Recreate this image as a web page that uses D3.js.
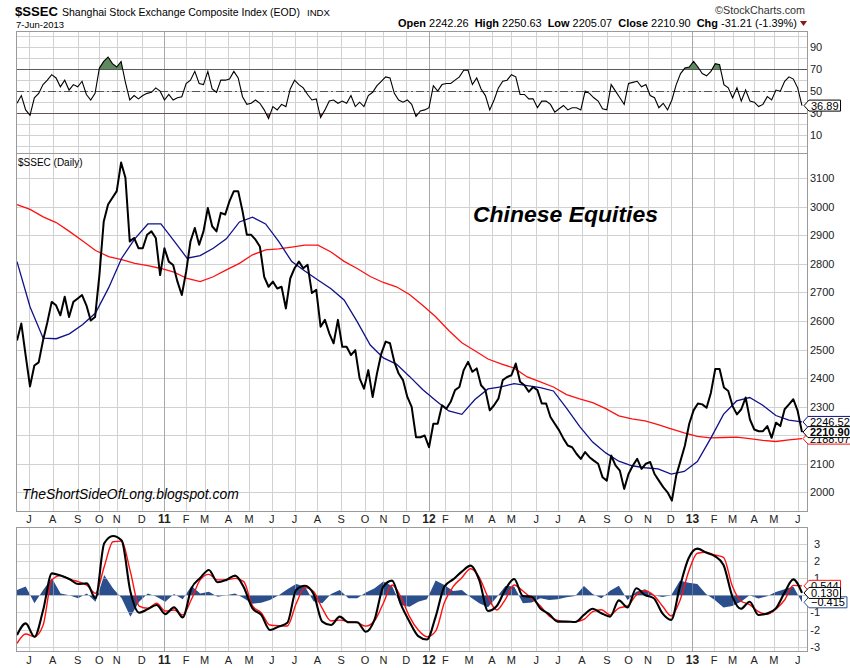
<!DOCTYPE html>
<html><head><meta charset="utf-8">
<script src="https://cdn.jsdelivr.net/npm/d3@7"></script>
<style>body{margin:0;background:#fff} svg{display:block} text{font-family:"Liberation Sans",Arial,sans-serif}</style>
</head><body><svg id="c" width="850" height="668"></svg>
<script>
// ---------- data ----------
const monthLabels = ["J","A","S","O","N","D","11","F","M","A","M","J","J","A","S","O","N","D","12","F","M","A","M","J","J","A","S","O","N","D","13","F","M","A","M","J"];
const monthDayIdx = [11,33,56,76,92,115,136,156,173,195,214,235,256,277,299,321,338,359,380,395,417,438,456,479,499,521,544,564,582,603,623,643,660,680,698,720];
const totalDays = 725;

const closePrice = [2532,2591,2479,2371,2444,2455,2532,2596,2667,2655,2620,2685,2614,2667,2679,2691,2655,2602,2614,2761,
2949,3008,3032,3055,3155,3102,2879,2891,2855,2855,2902,2914,2891,2761,2855,2808,2796,2738,2691,2773,
2879,2926,2867,2914,2996,2932,2914,2979,2973,3020,3055,3055,2985,2902,2902,2885,2861,2755,2720,2738,
2714,2720,2644,2749,2785,2808,2785,
2797,2698,2709,2580,2604,2557,2522,2604,2510,2510,2481,2498,2399,2363,2428,2334,2416,2486,2528,2522,
2457,2416,2393,2334,2299,2193,2193,2199,2158,2240,2240,2305,2293,2317,2358,2369,2428,2457,2422,2434,
2375,2358,2287,2305,2328,2393,2404,2410,2451,2387,2375,2352,2369,2358,2311,2311,2264,2240,2217,2188,
2164,2158,2135,2117,2141,2123,2111,2100,2053,2041,2129,2094,2076,2012,2064,2094,2117,2082,2100,2106,
2064,2041,2018,2000,1971,2059,2111,2164,2240,2287,2311,
2308,2296,2349,2432,2432,2367,2355,2302,2273,2291,2332,2255,2220,2214,2214,2232,2191,2244,2232,2291,
2308,2326,2285,2210.90];

const ma50 = [2808,2649,2540,2538,2555,2587,2628,2716,2820,2888,2940,2940,2881,2820,2829,2855,2888,2947,2964,2940,
2879,2808,2775,2744,2713,2674,2598,2516,2471,2449,2406,2360,2322,2285,2273,2325,2362,2369,2381,2374,
2367,2355,2295,2231,2176,2138,2109,2093,2086,2082,2064,2073,2108,2187,2273,2320,2332,2305,2269,2253,2246.52];

const ma200 = [3008,2991,2965,2945,2914,2881,2847,2826,2815,2802,2794,2784,2771,2749,2738,2755,2779,2802,2832,2849,
2853,2859,2866,2866,2842,2809,2784,2756,2735,2720,2693,2655,2615,2567,2524,2496,2467,2450,2435,2404,
2387,2369,2342,2327,2314,2293,2268,2257,2250,2237,2222,2208,2196,2191,2192,2193,2188,2182,2178,2184,2188.07];

const rsi14 = [39,46,33,28,44,48,56,60,65,62,54,60,51,56,54,59,47,42,48,71,
77,81,75,72,77,58,42,46,43,46,48,49,53,50,42,47,42,44,45,57,
60,68,57,56,68,52,49,60,60,61,68,62,45,38,39,42,39,33,25,36,
33,38,36,52,60,56,53,47,42,43,26,33,41,42,39,41,39,46,36,40,
36,46,49,55,59,63,62,48,42,40,42,38,27,32,33,
35,55,50,56,57,57,60,63,69,69,56,62,52,46,33,42,53,59,60,65,
63,47,47,43,43,35,41,41,38,31,34,37,33,35,35,33,50,48,44,41,
34,33,56,50,44,38,57,58,59,54,56,46,44,35,39,33,42,56,66,71,
72,77,72,66,64,68,75,74,56,53,44,53,41,51,41,40,36,38,45,42,
51,50,59,63,61,53,36.89];

const macdLine = [-2.32,-1.64,-2.42,-0.86,1.27,1.14,0.94,0.65,0.69,-0.18,3.02,3.45,3.18,0.21,-1.02,-0.81,-0.57,-1.10,-0.71,-1.29,
0.40,1.00,1.47,0.75,0.89,1.14,0.46,-0.77,-1.15,-2.03,-1.83,-1.60,0.30,0.55,0.07,-1.54,-1.74,-1.25,-1.58,-1.58,
-2.13,-1.41,0.50,0.85,-0.52,-1.54,-2.38,-2.58,-1.25,0.50,0.92,1.37,1.72,0.88,-0.92,-0.63,0.34,0.94,-0.05,-0.09,
-0.77,-1.10,-1.54,-1.54,-1.56,-1.15,-0.79,-1.05,-1.25,-0.30,-0.71,0.40,0.01,-0.18,-1.06,-1.44,0.50,2.15,2.71,2.48,
2.28,1.76,-0.05,-0.79,-0.38,-1.15,-1.06,-0.77,0.15,0.92,0.130];

const macdSignal = [-2.81,-2.26,-2.42,-1.74,0.89,1.14,0.92,0.79,0.59,0.11,1.66,3.11,3.15,1.37,-0.63,-0.76,-0.47,-0.92,-0.86,-1.15,
-0.24,0.89,1.21,0.89,0.89,0.98,0.79,-0.63,-1.02,-1.74,-1.78,-1.79,-0.50,0.44,0.21,-0.77,-1.50,-1.45,-1.54,-1.60,
-1.80,-1.49,-0.47,0.59,-0.09,-1.25,-2.03,-2.42,-2.09,-0.43,0.50,1.02,1.54,1.04,-0.12,-0.86,-0.24,0.59,0.24,-0.18,
-0.63,-1.21,-1.47,-1.54,-1.54,-1.41,-0.96,-0.85,-1.15,-0.75,-0.63,0.01,0.26,-0.01,-0.63,-1.21,-0.32,1.37,2.44,2.50,
2.34,2.20,0.55,-0.34,-0.55,-0.96,-1.11,-0.81,-0.28,0.57,0.544];

const macdHist = [0.3,0.5,-0.47,0.3,0.98,0.1,0.0,-0.18,0.1,-0.38,1.17,0.4,-0.18,-1.25,-0.38,0.1,-0.09,-0.38,0.07,-0.24,
0.53,0.1,0.2,-0.09,0.0,0.1,-0.18,-0.5,-0.44,-0.28,0.0,0.34,0.65,0.5,-0.35,-0.47,0.07,0.3,-0.18,-0.18,
0.15,0.4,0.79,0.54,-0.57,-0.67,-0.38,-0.24,0.85,0.6,0.25,0.3,-0.12,-0.47,-0.7,-0.12,0.54,0.5,-0.47,-0.43,
-0.18,-0.28,-0.24,-0.12,-0.05,0.54,0.07,-0.18,0.26,0.55,-0.28,0.2,0.34,0.0,-0.1,0.0,0.84,0.73,0.65,0.07,
-0.28,-0.71,-0.63,-0.38,0.0,-0.2,-0.06,0.19,0.34,0.5,-0.415];

const priceTicks = [2000,2100,2200,2300,2400,2500,2600,2700,2800,2900,3000,3100];
const rsiTicks = [90,70,50,30,10];
const rsiGrid = [0,10,20,30,40,50,60,70,80,90,100];
const macdTicks = [3,2,1,-1,-2,-3];
const macdGrid = [-3,-2,-1,0,1,2,3];
const quoteLabels = ["Open","High","Low","Close","Chg"];
const quoteValues = ["2242.26","2250.63","2205.07","2210.90","-31.21 (-1.39%)"];

// ---------- layout ----------
const svg = d3.select("#c");
const L = 16, R = 807;
const rsiP = {top:31, bottom:153}, priceP = {top:153, bottom:511}, macdP = {top:527, bottom:651};

const xDay = d3.scaleLinear().domain([0, totalDays-1]).range([17, 802]);
const xOf = arr => (d,i) => xDay(i*(totalDays-1)/(arr.length-1));

const yPrice = d3.scaleLinear().domain([1934.5, 3188.6]).range([priceP.bottom, priceP.top]);
const yRsi = d3.scaleLinear().domain([-6.2, 104.7]).range([rsiP.bottom, rsiP.top]);
const yMacd = d3.scaleLinear().domain([-3.25, 3.97]).range([macdP.bottom, macdP.top]);

const isYear = s => /\d/.test(s);
function fit(t, w){
  const fs = parseFloat(t.attr("font-size"));
  const cw = t.node().getComputedTextLength();
  t.attr("font-size",(fs*w/cw).toFixed(2)+"px");
  return t;
}

function grid(p, yScale, vals, opacity){
  const g = svg.append("g").attr("shape-rendering","crispEdges").attr("opacity", opacity||1);
  g.selectAll(null).data(vals).enter().append("line")
    .attr("x1",L).attr("x2",R)
    .attr("y1",d=>Math.round(yScale(d))+0.5).attr("y2",d=>Math.round(yScale(d))+0.5)
    .attr("stroke","#d2d2d2");
  g.selectAll(null).data(monthDayIdx).enter().append("line")
    .attr("x1",d=>Math.round(xDay(d))+0.5).attr("x2",d=>Math.round(xDay(d))+0.5)
    .attr("y1",p.top).attr("y2",p.bottom)
    .attr("stroke",(d,i)=>isYear(monthLabels[i])?"#a8a8a8":"#d2d2d2");
  return g;
}
function frame(p){
  svg.append("rect").attr("x",L+0.5).attr("y",p.top+0.5).attr("width",R-L).attr("height",p.bottom-p.top)
    .attr("fill","none").attr("stroke","#9a9a9a").attr("shape-rendering","crispEdges");
}
function monthAxis(yBase){
  svg.append("g").selectAll("text").data(monthLabels).enter().append("text")
    .attr("x",(d,i)=>xDay(monthDayIdx[i])).attr("y",yBase)
    .attr("text-anchor","middle").attr("font-size",d=>isYear(d)?"12px":"11px").attr("font-weight",d=>isYear(d)?"bold":"normal")
    .attr("fill","#222").text(d=>d);
}
function tag(xTip, yc, txt, color, bold){
  const t = svg.append("text").attr("x",xTip+7).attr("y",yc+4).attr("font-size","11px")
    .attr("font-weight",bold?"bold":"normal").attr("fill","#000").text(txt);
  const w = t.node().getComputedTextLength()+4;
  const h = 11;
  svg.insert("path", () => t.node())
    .attr("d",`M${xTip},${yc} L${xTip+5},${yc-h/2} L${xTip+5+w},${yc-h/2} L${xTip+5+w},${yc+h/2} L${xTip+5},${yc+h/2} Z`)
    .attr("fill","#fff").attr("stroke",color).attr("stroke-width",1);
}

// ---------- header ----------
fit(svg.append("text").attr("x",15).attr("y",16).attr("font-size","15px").attr("font-weight","bold").text("$SSEC"), 43);
fit(svg.append("text").attr("x",62).attr("y",16).attr("font-size","12px").text("Shanghai Stock Exchange Composite Index (EOD)"), 238);
fit(svg.append("text").attr("x",307).attr("y",16).attr("font-size","10px").text("INDX"), 23);
fit(svg.append("text").attr("x",16).attr("y",28).attr("font-size","12px").text("7-Jun-2013"), 48);
fit(svg.append("text").attr("x",805).attr("y",14).attr("font-size","11px").attr("text-anchor","end").attr("fill","#333").text("\u00A9StockCharts.com"), 90);
const qt = svg.append("text").attr("x",797).attr("y",27).attr("font-size","12px").attr("text-anchor","end").attr("xml:space","preserve");
quoteLabels.forEach((l,i)=>{
  qt.append("tspan").attr("font-weight","bold").text((i?"  ":"")+l+" ");
  qt.append("tspan").text(quoteValues[i]);
});
fit(qt, 399);
svg.append("path").attr("d","M800,21 L807,21 L803.5,26 Z").attr("fill","#8b1a1a");

// ---------- RSI panel ----------
grid(rsiP, yRsi, rsiGrid);
svg.append("g").selectAll("line").data([70,50,30]).enter().append("line")
  .attr("x1",L).attr("x2",R).attr("y1",d=>Math.round(yRsi(d))+0.5).attr("y2",d=>Math.round(yRsi(d))+0.5)
  .attr("stroke","#555").attr("shape-rendering","crispEdges")
  .attr("stroke-dasharray",d=>d===50?"8,3,2,3":null);
const defs = svg.append("defs");
defs.append("clipPath").attr("id","ob").append("rect").attr("x",L).attr("y",rsiP.top).attr("width",R-L).attr("height",yRsi(70)-rsiP.top);
defs.append("clipPath").attr("id","os").append("rect").attr("x",L).attr("y",yRsi(30)).attr("width",R-L).attr("height",rsiP.bottom-yRsi(30));
svg.append("path").datum(rsi14).attr("clip-path","url(#ob)").attr("fill","#5e8a5e")
  .attr("d",d3.area().x(xOf(rsi14)).y0(yRsi(70)).y1(d=>yRsi(d)));
svg.append("path").datum(rsi14).attr("clip-path","url(#os)").attr("fill","#a24f4f")
  .attr("d",d3.area().x(xOf(rsi14)).y0(yRsi(30)).y1(d=>yRsi(d)));
svg.append("path").datum(rsi14).attr("fill","none").attr("stroke","#000").attr("stroke-width",1.1)
  .attr("d",d3.line().x(xOf(rsi14)).y(d=>yRsi(d)));
frame(rsiP);
svg.append("g").selectAll("text").data(rsiTicks).enter().append("text")
  .attr("x",810).attr("y",d=>yRsi(d)+4).attr("font-size","11px").attr("fill","#222").text(d=>d);
tag(804, yRsi(rsi14[rsi14.length-1]), d3.format(".2f")(rsi14[rsi14.length-1]), "#000", false);

// ---------- price panel ----------
grid(priceP, yPrice, priceTicks);
svg.append("path").datum(ma200).attr("fill","none").attr("stroke","#ff1010").attr("stroke-width",1.3)
  .attr("d",d3.line().x(xOf(ma200)).y(d=>yPrice(d)));
svg.append("path").datum(ma50).attr("fill","none").attr("stroke","#10108a").attr("stroke-width",1.3)
  .attr("d",d3.line().x(xOf(ma50)).y(d=>yPrice(d)));
svg.append("path").datum(closePrice).attr("fill","none").attr("stroke","#000").attr("stroke-width",2.0)
  .attr("stroke-linejoin","round")
  .attr("d",d3.line().x(xOf(closePrice)).y(d=>yPrice(d)));
frame(priceP);
svg.append("g").selectAll("text").data(priceTicks).enter().append("text")
  .attr("x",810).attr("y",d=>yPrice(d)+4).attr("font-size","11px").attr("fill","#222").text(d=>d);
svg.append("text").attr("x",18).attr("y",166).attr("font-size","10px").attr("font-family","'DejaVu Sans Mono',monospace").text("$SSEC (Daily)");
fit(svg.append("text").attr("x",473).attr("y",222).attr("font-size","21px").attr("font-style","italic")
  .attr("font-weight","600").attr("font-family","'Open Sans',sans-serif").text("Chinese Equities"), 185);
fit(svg.append("text").attr("x",22).attr("y",499).attr("font-size","15px").attr("font-style","italic")
  .attr("font-family","'Open Sans',sans-serif").text("TheShortSideOfLong.blogspot.com"), 217);
tag(803, yPrice(ma200[ma200.length-1]), d3.format(".2f")(ma200[ma200.length-1]), "#ff1010", false);
tag(803, yPrice(ma50[ma50.length-1]), d3.format(".2f")(ma50[ma50.length-1]), "#10108a", false);
tag(803, yPrice(closePrice[closePrice.length-1]), d3.format(".2f")(closePrice[closePrice.length-1]), "#000", true);
monthAxis(523);

// ---------- MACD panel ----------
grid(macdP, yMacd, macdGrid);
svg.append("path").datum(macdHist).attr("fill","#2a4f8c")
  .attr("d",d3.area().x(xOf(macdHist)).y0(yMacd(0)).y1(d=>yMacd(d)));
grid(macdP, yMacd, macdGrid, 0.45);
svg.append("path").datum(macdSignal).attr("fill","none").attr("stroke","#ff1010").attr("stroke-width",1.4)
  .attr("d",d3.line().curve(d3.curveMonotoneX).x(xOf(macdSignal)).y(d=>yMacd(d)));
svg.append("path").datum(macdLine).attr("fill","none").attr("stroke","#000").attr("stroke-width",2.1)
  .attr("d",d3.line().curve(d3.curveMonotoneX).x(xOf(macdLine)).y(d=>yMacd(d)));
frame(macdP);
svg.append("g").selectAll("text").data(macdTicks).enter().append("text")
  .attr("x",820).attr("y",d=>yMacd(d)+4).attr("text-anchor","end").attr("font-size","11px").attr("fill","#222").text(d=>d);
tag(804, yMacd(macdSignal[macdSignal.length-1]), d3.format(".3f")(macdSignal[macdSignal.length-1]), "#ff1010", false);
tag(804, yMacd(macdHist[macdHist.length-1]), d3.format(".3f")(macdHist[macdHist.length-1]), "#2a4f8c", false);
tag(804, yMacd(macdLine[macdLine.length-1]), d3.format(".3f")(macdLine[macdLine.length-1]), "#000", false);
monthAxis(664);
</script></body></html>
